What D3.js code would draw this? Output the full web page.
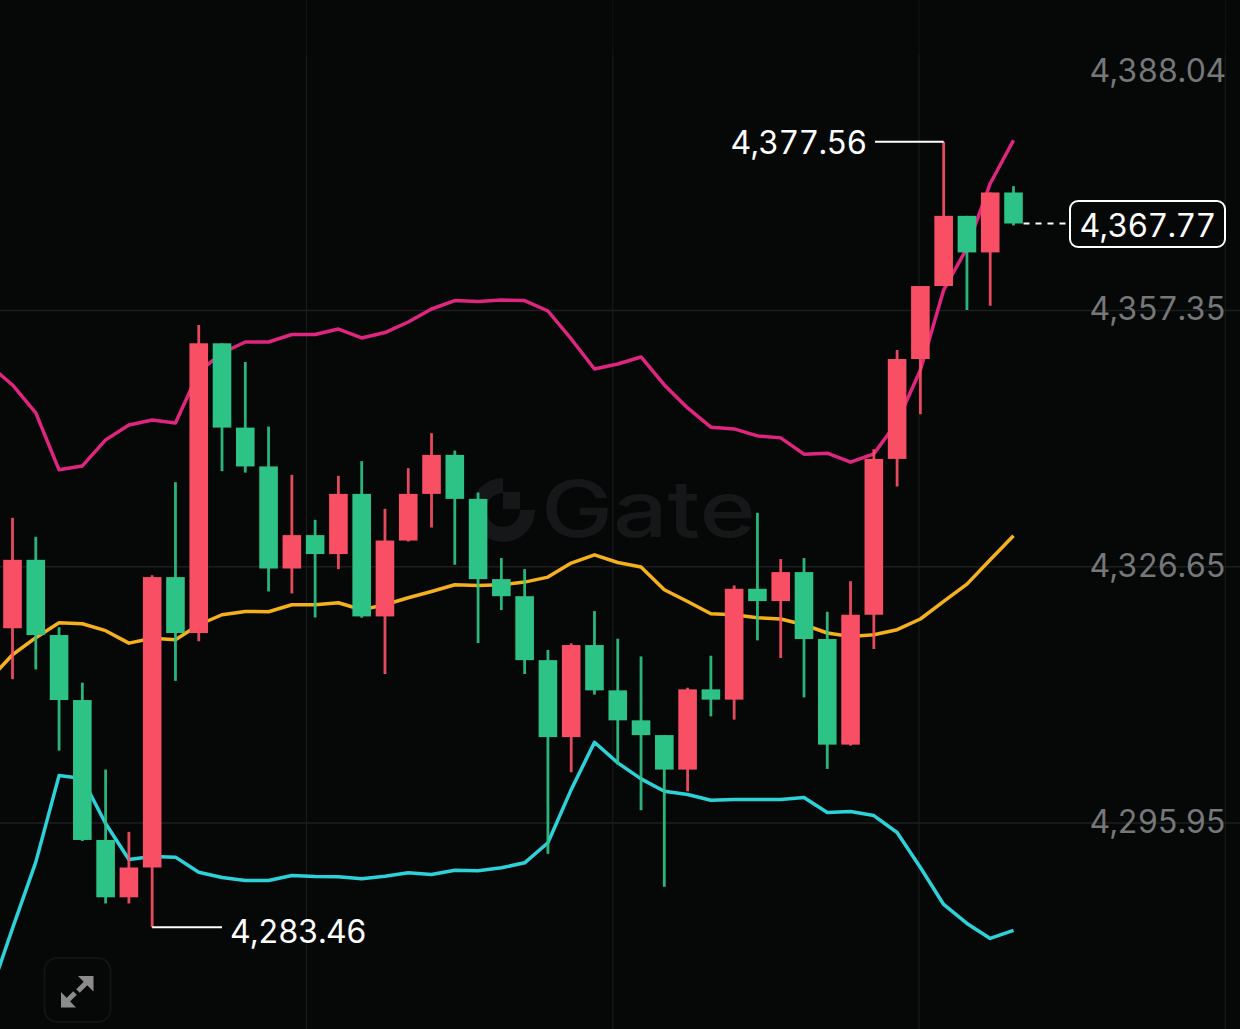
<!DOCTYPE html>
<html>
<head>
<meta charset="utf-8">
<script src="https://cdn.jsdelivr.net/npm/d3@7/dist/d3.min.js"></script>
<style>
html,body{margin:0;padding:0;background:#060808;overflow:hidden}
svg{display:block}
text{font-family:Inter,"Liberation Sans",sans-serif;font-variant-numeric:tabular-nums;font-feature-settings:"tnum" 1;letter-spacing:-0.7px}
</style>
</head>
<body>
<svg id="chart" width="1240" height="1029"></svg>
<script>
const openPrices=[4319.28,4327.48,4318.47,4310.68,4293.92,4287.05,4290.62,4325.41,4318.71,4353.42,4343.32,4338.67,4326.44,4330.44,4328.17,4335.38,4320.70,4329.79,4335.38,4340.05,4334.78,4325.17,4323.12,4315.46,4306.24,4317.27,4311.84,4308.25,4306.48,4302.35,4311.96,4310.73,4324.01,4322.54,4326.01,4317.99,4305.34,4320.90,4339.57,4351.54,4360.28,4368.69,4364.31,4371.49];
const highPrices=[4332.51,4330.24,4319.40,4312.76,4302.35,4294.89,4325.62,4336.78,4355.61,4353.42,4351.18,4343.44,4337.66,4332.27,4337.54,4339.30,4333.59,4338.46,4342.65,4340.57,4335.54,4327.69,4326.37,4316.68,4317.47,4321.34,4318.03,4315.91,4306.48,4312.16,4315.99,4324.41,4333.11,4327.57,4327.69,4321.26,4324.93,4340.73,4352.62,4360.28,4377.56,4368.69,4371.49,4372.25];
const lowPrices=[4313.18,4314.35,4304.62,4293.79,4286.31,4286.31,4283.46,4312.98,4317.71,4338.10,4337.93,4323.69,4323.45,4320.58,4326.37,4320.54,4313.80,4329.67,4331.35,4326.89,4317.51,4321.46,4313.80,4292.26,4302.03,4311.33,4302.95,4297.48,4288.31,4299.75,4308.73,4308.33,4317.83,4315.72,4311.00,4302.43,4305.22,4316.80,4336.26,4344.92,4360.28,4357.41,4357.92,4367.54];
const closePrices=[4327.48,4318.47,4310.68,4293.92,4287.05,4290.62,4325.41,4318.71,4353.42,4343.32,4338.67,4326.44,4330.44,4328.17,4335.38,4320.70,4329.79,4335.38,4340.05,4334.78,4325.17,4323.12,4315.46,4306.24,4317.27,4311.84,4308.25,4306.48,4302.35,4311.96,4310.73,4324.01,4322.54,4326.01,4317.99,4305.34,4320.90,4339.57,4351.54,4360.28,4368.69,4364.31,4371.49,4367.77];
// Bands start one period before the first visible candle.
const upperBand=[4350.82,4348.43,4345.08,4338.26,4338.73,4341.85,4343.64,4344.24,4343.88,4349.99,4352.26,4353.58,4353.58,4354.47,4354.47,4355.13,4354.06,4354.71,4355.97,4357.53,4358.54,4358.42,4358.60,4358.54,4357.29,4353.94,4350.34,4350.94,4351.78,4348.43,4345.68,4343.37,4343.16,4342.33,4342.09,4340.14,4340.25,4339.18,4340.17,4344.00,4350.22,4359.80,4364.83,4372.57,4377.75];
const middleBand=[4313.12,4316.11,4318.15,4319.94,4319.82,4318.99,4317.50,4318.09,4317.91,4319.70,4320.90,4321.30,4321.26,4322.10,4322.10,4322.34,4321.50,4322.10,4322.94,4323.69,4324.49,4324.41,4324.49,4324.81,4325.41,4327.09,4328.08,4327.16,4326.61,4323.89,4322.49,4321.02,4320.90,4320.54,4320.39,4319.70,4318.71,4318.30,4318.51,4319.11,4320.39,4322.49,4324.57,4327.48,4330.36];
const lowerBand=[4275.18,4283.32,4291.26,4301.63,4301.27,4295.89,4291.58,4291.94,4291.86,4290.05,4289.42,4289.06,4289.06,4289.66,4289.54,4289.51,4289.27,4289.58,4289.99,4289.78,4290.30,4290.22,4290.58,4291.18,4293.58,4299.95,4305.62,4303.15,4301.24,4299.75,4299.36,4298.67,4298.76,4298.76,4298.76,4299.00,4297.20,4297.32,4296.84,4294.81,4290.62,4286.19,4283.92,4282.12,4283.08];
const priceTicks=[4388.04,4357.35,4326.65,4295.95];
const highLabel=4377.56, lowLabel=4283.46, lastPrice=4367.77;
const watermark="Gate";

const W=1240,H=1029;
const UP="#F94F64",DOWN="#2DC387",BG="#060808",GRID="#1c1e1f";
const svg=d3.select("#chart");
svg.append("rect").attr("width",W).attr("height",H).attr("fill",BG);

const x=d3.scaleLinear().domain([0,openPrices.length-1]).range([12.5,1013.5]);
const y=d3.scaleLinear().domain([4357.35,4295.95]).range([310.5,823]);
const fmt=d3.format(",.2f");

// watermark
const wm=svg.append("g").attr("fill","#151718");
wm.append("path").attr("transform","translate(503,510)")
  .attr("d",d3.arc().innerRadius(17).outerRadius(32).startAngle(Math.PI/2).endAngle(Math.PI*2)());
wm.append("rect").attr("x",503).attr("y",492).attr("width",17).attr("height",17);
wm.append("text").attr("x",541).attr("y",537).attr("font-size",78).attr("font-weight",500)
  .attr("textLength",215).attr("lengthAdjust","spacingAndGlyphs").style("letter-spacing","0").text(watermark);

// grid
const vx=[306.5,612.8,919,1225.3];
const gv=svg.append("g");
gv.selectAll("line.top").data(vx).join("line").attr("class","top")
  .attr("x1",d=>d).attr("x2",d=>d).attr("y1",0).attr("y2",y(priceTicks[0]))
  .attr("stroke","#0f1112").attr("stroke-width",1.2);
gv.selectAll("line.main").data(vx).join("line").attr("class","main")
  .attr("x1",d=>d).attr("x2",d=>d).attr("y1",y(priceTicks[0])).attr("y2",H)
  .attr("stroke","#181a1b").attr("stroke-width",1.2);
svg.append("g").selectAll("line").data(priceTicks.slice(1)).join("line")
  .attr("x1",0).attr("x2",W).attr("y1",d=>y(d)).attr("y2",d=>y(d))
  .attr("stroke",GRID).attr("stroke-width",1.3);

// bands
const line=d3.line().x((d,i)=>x(i-1)).y(d=>y(d));
[[upperBand,"#E0257F"],[middleBand,"#F4B11C"],[lowerBand,"#2DD2D8"]].forEach(([s,c])=>{
  svg.append("path").attr("d",line(s)).attr("fill","none").attr("stroke",c)
    .attr("stroke-width",3.5).attr("stroke-linejoin","round");
});

// candles
const candles=openPrices.map((o,i)=>({i,o,h:highPrices[i],l:lowPrices[i],c:closePrices[i]}));
const color=d=>d.c>=d.o?UP:DOWN;
const cg=svg.append("g").selectAll("g").data(candles).join("g");
cg.append("line").attr("x1",d=>x(d.i)).attr("x2",d=>x(d.i)).attr("y1",d=>y(d.h)).attr("y2",d=>y(d.l))
  .attr("stroke",color).attr("stroke-width",2.8).attr("stroke-opacity",.92);
cg.append("rect").attr("x",d=>x(d.i)-9.3).attr("width",18.6)
  .attr("y",d=>y(Math.max(d.o,d.c))).attr("height",d=>Math.abs(y(d.o)-y(d.c)))
  .attr("fill",color);

// price axis
const axis=svg.append("g").attr("transform","translate(1225.5,0)")
  .call(d3.axisRight(y).tickValues(priceTicks).tickFormat(fmt).tickSize(0).tickPadding(0));
axis.select(".domain").remove();
axis.selectAll("text").attr("text-anchor","end").attr("fill","#757778")
  .style("font-family",'Inter,"Liberation Sans",sans-serif').attr("font-size",32)
  .attr("dy",(d,i)=>i===0?"0.85em":"0.29em");

// high / low callouts
const hi=highPrices.indexOf(highLabel), lo=lowPrices.indexOf(lowLabel);
svg.append("line").attr("x1",x(hi)).attr("x2",875).attr("y1",y(highLabel)).attr("y2",y(highLabel))
  .attr("stroke","#fff").attr("stroke-width",2);
svg.append("text").attr("x",866.5).attr("y",y(highLabel)+12.5).attr("text-anchor","end")
  .attr("fill","#fff").attr("font-size",32).text(fmt(highLabel));
svg.append("line").attr("x1",x(lo)).attr("x2",222).attr("y1",y(lowLabel)).attr("y2",y(lowLabel))
  .attr("stroke","#fff").attr("stroke-width",2);
svg.append("text").attr("x",230).attr("y",y(lowLabel)+15.5).attr("fill","#fff").attr("font-size",32).text(fmt(lowLabel));

// last price
svg.append("line").attr("x1",x(43)+10).attr("x2",1070).attr("y1",y(lastPrice)).attr("y2",y(lastPrice))
  .attr("stroke","#fff").attr("stroke-width",2).attr("stroke-dasharray","6 6");
svg.append("rect").attr("x",1070).attr("y",201).attr("width",155).attr("height",46).attr("rx",8)
  .attr("fill",BG).attr("stroke","#fff").attr("stroke-width",2);
svg.append("text").attr("x",1147.5).attr("y",y(lastPrice)+13.5).attr("text-anchor","middle")
  .attr("fill","#fff").attr("font-size",32).text(fmt(lastPrice));

// expand icon
const ic=svg.append("g");
ic.append("rect").attr("x",44.5).attr("y",958).attr("width",66).attr("height",64).attr("rx",13)
  .attr("fill",BG).attr("stroke","#111314").attr("stroke-width",2);
ic.append("path").attr("fill","#8c8c8c").attr("d","M78 976H93.5V991.5Z M61 992L76 1007.5H61Z");
ic.append("path").attr("stroke","#8c8c8c").attr("stroke-width",5).attr("d","M87 982L78 991 M67 1001L75 993");
</script>
</body>
</html>
